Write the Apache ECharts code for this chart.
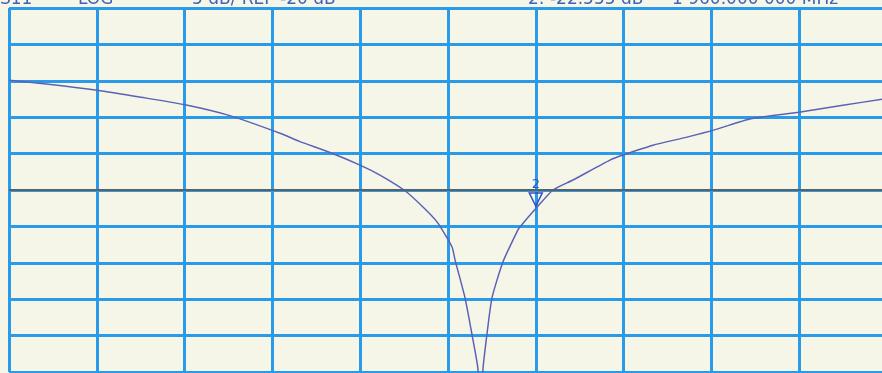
<!DOCTYPE html>
<html><head><meta charset="utf-8">
<script src="https://cdn.jsdelivr.net/npm/echarts@6/dist/echarts.min.js"></script>
<style>html,body{margin:0;padding:0;background:#f6f6e8;}#c{width:882px;height:373px;}</style>
</head><body><div id="c"></div>
<script>
// Frequency (MHz) and S11 magnitude (dB)
const freqMHz = [1600,1630.1,1660.1,1690.2,1720.3,1750.3,1785.2,1798.8,1819.4,1839.9,1853.5,1870.6,1882.9,1892.5,1902.7,1904.8,1911.6,1916.4,1920.5,1922.2,1923.9,1926.6,1930.1,1937.6,1947.8,1949.2,1960,1971.8,1985.4,2010.7,2019.6,2040.1,2063.3,2083.8,2106.4,2139.8,2169.9,2196.6];
const s11dB   = [-4.93,-5.55,-6.3,-7.26,-8.29,-9.75,-12.2,-13.35,-14.85,-16.58,-17.95,-20.1,-22.33,-24.38,-27.8,-29.59,-34.79,-39.86,-44.66,-54,-44.66,-39.86,-34.79,-29.86,-25.48,-25.07,-22.555,-20.0,-18.63,-15.89,-15.2,-13.84,-12.74,-11.64,-10.24,-9.32,-8.36,-7.53];
const refLevel = -20;
const marker2 = {freq:1960, value:-22.555, label:'2'};
const headerLeft = ['S11','LOG','5 dB/ REF','-20 dB'];
const headerRight = ['2: -22.555 dB','1 960.000 000 MHz'];

const chart = echarts.init(document.getElementById('c'));
const textStyle = (t,x)=>({type:'text',left:x,top:-9,style:{text:t,fill:'#3f63b8',font:'17px "DejaVu Sans"'}});
chart.setOption({
  backgroundColor:'#f6f6e8',
  animation:false,
  grid:{left:9,top:8,width:873,height:364},
  xAxis:{type:'value',min:1600,max:2196.6,interval:60,
    axisLine:{show:false},axisTick:{show:false},axisLabel:{show:false},
    splitLine:{show:true,showMaxLine:false,lineStyle:{color:'#2a9be8',width:3}}},
  yAxis:{type:'value',min:-45,max:5,interval:5,
    axisLine:{show:false},axisTick:{show:false},axisLabel:{show:false},
    splitLine:{show:true,lineStyle:{color:'#2a9be8',width:3}}},
  graphic:[
    textStyle(headerLeft[0],0),textStyle(headerLeft[1],78),textStyle(headerLeft[2],192),textStyle(headerLeft[3],280),
    textStyle(headerRight[0],528),textStyle(headerRight[1],672)
  ],
  series:[{
    type:'line',
    data:freqMHz.map((f,i)=>[f,s11dB[i]]),
    smooth:0.2,symbol:'none',clip:true,
    lineStyle:{color:'#5a62b8',width:1.5},
    markLine:{silent:true,symbol:'none',label:{show:false},
      lineStyle:{color:'#606060',width:2,type:'solid'},
      data:[{yAxis:refLevel}]},
    markPoint:{
      symbol:'path://M0,0 L10,0 L5,12 Z',symbolSize:[13,13],symbolOffset:[0,-9],
      itemStyle:{color:'rgba(0,0,0,0)',borderColor:'#3050c8',borderWidth:1.5},
      label:{show:true,position:'top',distance:1,color:'#3050c8',fontSize:13,fontFamily:'DejaVu Sans',formatter:()=>marker2.label},
      data:[{coord:[marker2.freq,marker2.value]}]
    }
  }]
});
</script></body></html>
